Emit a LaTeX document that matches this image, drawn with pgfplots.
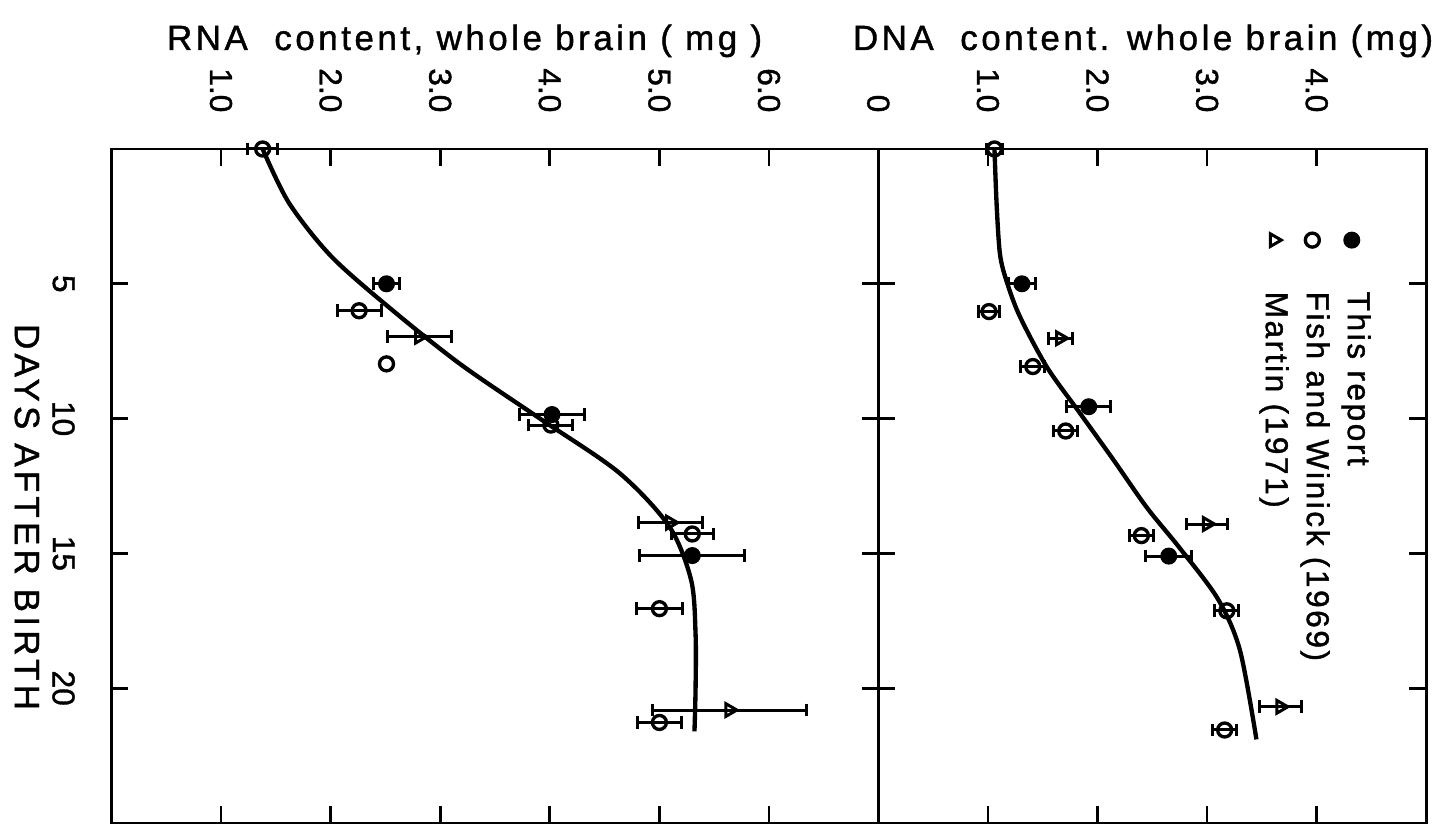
\documentclass[border=0pt]{standalone}
\usepackage{pgfplots}
\pgfplotsset{compat=1.18}
\usepackage{fontspec}
\setmainfont[FakeBold=1.2]{Liberation Sans}
\newfontfamily\titlefont[LetterSpace=10,FakeBold=1.2]{Liberation Sans}
\newfontfamily\legfont[LetterSpace=8,FakeBold=1.2]{Liberation Sans}
\newfontfamily\dayfont[LetterSpace=12,FakeBold=1.2]{Liberation Sans}

\pgfplotsset{
  panel/.style={
    scale only axis,
    height=202.2pt,
    ymin=0, ymax=25, y dir=reverse,
    axis line style={line width=0.8pt},
    tick align=inside,
    xticklabel pos=right,
    xtick pos=both, ytick pos=both,
    major tick length=5.1pt,
    tick style={line width=0.8pt, black},
    ytick={5,10,15,20},
    clip=false,
    /pgf/number format/assume math mode=true,
    xticklabel style={font=\fontsize{9.5}{9.5}\selectfont, inner sep=0pt,
      yshift=10.8pt, rotate=-90, anchor=east},
    yticklabel style={font=\fontsize{9.5}{9.5}\selectfont, inner sep=0pt,
      xshift=-10.8pt, rotate=-90, anchor=north},
  },
  errx/.style={error bars/.cd, x dir=both, x explicit, error mark=|,
    error bar style={line width=0.9pt, black},
    error mark options={line width=0.9pt, mark size=1.9pt, black}},
  report/.style={only marks, mark=*, mark size=2.35pt, black},
  fish/.style={only marks, mark=o, mark size=2.1pt, black,
    mark options={line width=1.0pt, fill=white}},
  martin/.style={only marks, mark=triangle, mark size=2.2pt, black,
    mark options={line width=0.9pt, fill=white, rotate=-90}},
  fit/.style={smooth, line width=1.3pt, black, no marks},
}

\begin{document}
\begin{tikzpicture}
\useasboundingbox (0,0) rectangle (432.9pt,250.5pt);

% RNA panel
\begin{axis}[panel, at={(33.42pt,3.6pt)}, anchor=south west,
  width=230.16pt, xmin=0, xmax=7,
  xtick={1,2,3,4,5,6}, xticklabels={1.0,2.0,3.0,4.0,5.0,6.0}]
\addplot[fit] coordinates {
  (1.38,0) (1.62,2) (2.01,4) (2.57,6) (3.19,8) (3.91,10)
  (4.63,12) (5.09,14) (5.29,16) (5.33,18) (5.33,20) (5.32,21.6)};
\addplot[report, errx] coordinates {
  (2.51,5.00) +- (0.12,0)
  (4.02,9.85) +- (0.30,0)
  (5.30,15.08) +- (0.48,0)};
\addplot[fish, errx] coordinates {
  (1.38,0) +- (0.14,0)
  (2.26,6.00) +- (0.20,0)
  (4.01,10.24) +- (0.20,0)
  (5.30,14.28) +- (0.19,0)
  (5.00,17.05) +- (0.21,0)
  (5.00,21.27) +- (0.20,0)};
\addplot[fish] coordinates {(2.51,7.97)};
\addplot[martin, errx] coordinates {
  (2.81,6.96) +- (0.29,0)
  (5.10,13.86) +- (0.29,0)
  (5.64,20.81) +- (0.70,0)};
\end{axis}

% DNA panel
\begin{axis}[panel, at={(263.49pt,3.6pt)}, anchor=south west,
  width=164.4pt, xmin=0, xmax=5,
  xtick={0,1,2,3,4}, xticklabels={0,1.0,2.0,3.0,4.0},
  yticklabels={}]
\addplot[fit] coordinates {
  (1.06,0) (1.08,2.1) (1.11,3.9) (1.17,4.9) (1.29,6.2) (1.54,8.1)
  (1.84,9.8) (2.14,11.5) (2.45,13.3) (2.75,14.8)
  (3.10,16.7) (3.30,18.6) (3.45,21.9)};
\addplot[report, errx] coordinates {
  (1.31,5.00) +- (0.12,0)
  (1.92,9.56) +- (0.20,0)
  (2.65,15.10) +- (0.21,0)};
\addplot[fish, errx] coordinates {
  (1.06,0) +- (0.07,0)
  (1.01,6.03) +- (0.10,0)
  (1.41,8.07) +- (0.11,0)
  (1.71,10.46) +- (0.11,0)
  (2.40,14.34) +- (0.11,0)
  (3.18,17.13) +- (0.11,0)
  (3.16,21.55) +- (0.11,0)};
\addplot[martin, errx] coordinates {
  (1.66,7.02) +- (0.11,0)
  (3.00,13.91) +- (0.19,0)
  (3.67,20.69) +- (0.19,0)};
% legend keys
\addplot[report] coordinates {(4.32,3.38)};
\addplot[fish] coordinates {(3.96,3.38)};
\addplot[martin] coordinates {(3.61,3.38)};
\end{axis}

% titles, axis label and legend text
\begin{scope}[x=0.3pt, y=-0.3pt, shift={(0pt,250.5pt)}]
\node[anchor=base, font=\titlefont\fontsize{10.5}{12}\selectfont]
  at (464.6,50) {RNA\ \ content, whole brain ( mg )};
\node[anchor=base, font=\titlefont\fontsize{10.5}{12}\selectfont]
  at (1143,50) {DNA\ \ content. whole brain (mg)};
\node[rotate=-90, font=\dayfont\fontsize{10.5}{12}\selectfont]
  at (27,517) {DAYS AFTER BIRTH};
\node[rotate=-90, anchor=west, inner sep=0pt, font=\legfont\fontsize{9.5}{11}\selectfont]
  at (1356,291) {This report};
\node[rotate=-90, anchor=west, inner sep=0pt, font=\legfont\fontsize{9.5}{11}\selectfont]
  at (1315,291) {Fish and Winick (1969)};
\node[rotate=-90, anchor=west, inner sep=0pt, font=\legfont\fontsize{9.5}{11}\selectfont]
  at (1274,291) {Martin (1971)};
\end{scope}
\end{tikzpicture}
\end{document}
